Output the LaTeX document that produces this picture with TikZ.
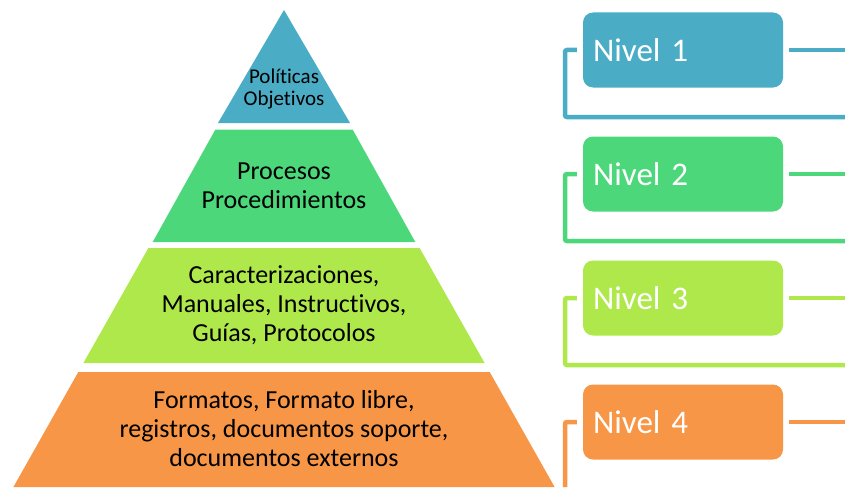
\documentclass[tikz,border=0pt]{standalone}
\usepackage{fontspec}
\setmainfont{Carlito}[Ligatures=NoCommon]
\usetikzlibrary{positioning}

\definecolor{niveluno}{HTML}{4BACC6}
\definecolor{niveldos}{HTML}{4CD87A}
\definecolor{niveltres}{HTML}{AEE84B}
\definecolor{nivelcuatro}{HTML}{F79646}

\begin{document}
\begin{tikzpicture}[x=1pt, y=-1pt, node distance=124pt,
	capa/.style={align=center, font=\fontsize{26}{29}\selectfont},
	nivel/.style={fill=#1, rounded corners=10pt, minimum height=75pt, text width=180pt, inner sep=10pt, align=left, text=white, font=\fontsize{33}{36}\selectfont},
	enlace/.style={draw=#1, line width=4.5pt, rounded corners=2pt}]
	\useasboundingbox (0,0) rectangle (845,487);
	
	% piramide
	\fill[niveluno] (284,10) -- (350,123) -- (218,123) -- cycle;
	\fill[niveldos] (215.4,129.5) -- (352.6,129.5) -- (415.3,242) -- (152.7,242) -- cycle;
	\fill[niveltres] (148.4,248) -- (419.6,248) -- (484.6,363) -- (83.4,363) -- cycle;
	\fill[nivelcuatro] (78.3,372) -- (489.7,372) -- (554.6,487) -- (13.4,487) -- cycle;
	
	\node(pol) [capa, font=\fontsize{21}{22}\selectfont] at (284,89) {Políticas\\Objetivos};
	\node(proc) [capa] at (284,186) {Procesos\\Procedimientos};
	\node(carac) [capa] at (284,305) {Caracterizaciones,\\Manuales, Instructivos,\\Guías, Protocolos};
	\node(form) [capa] at (284,429) {Formatos, Formato libre,\\registros, documentos soporte,\\documentos externos};
	
	% niveles
	\node(n1) [nivel=niveluno] at (683,50) {Nivel 1};
	\node(n2) [nivel=niveldos, below of=n1] {Nivel 2};
	\node(n3) [nivel=niveltres, below of=n2] {Nivel 3};
	\node(n4) [nivel=nivelcuatro, below of=n3] {Nivel 4};
	
	\coordinate(borde) at (845,0);
	\coordinate(b1) at (565,117);
	\coordinate(b2) at (565,241);
	\coordinate(b3) at (565,365);
	\coordinate(b4) at (565,487);
	
	\draw[enlace=niveluno] ([xshift=6pt]n1.east) -- (n1 -| borde);
	\draw[enlace=niveluno] ([xshift=-6pt]n1.west) -| (b1) -- (b1 -| borde);
	\draw[enlace=niveldos] ([xshift=6pt]n2.east) -- (n2 -| borde);
	\draw[enlace=niveldos] ([xshift=-6pt]n2.west) -| (b2) -- (b2 -| borde);
	\draw[enlace=niveltres] ([xshift=6pt]n3.east) -- (n3 -| borde);
	\draw[enlace=niveltres] ([xshift=-6pt]n3.west) -| (b3) -- (b3 -| borde);
	\draw[enlace=nivelcuatro] ([xshift=6pt]n4.east) -- (n4 -| borde);
	\draw[enlace=nivelcuatro] ([xshift=-6pt]n4.west) -| (b4);
\end{tikzpicture}
\end{document}
